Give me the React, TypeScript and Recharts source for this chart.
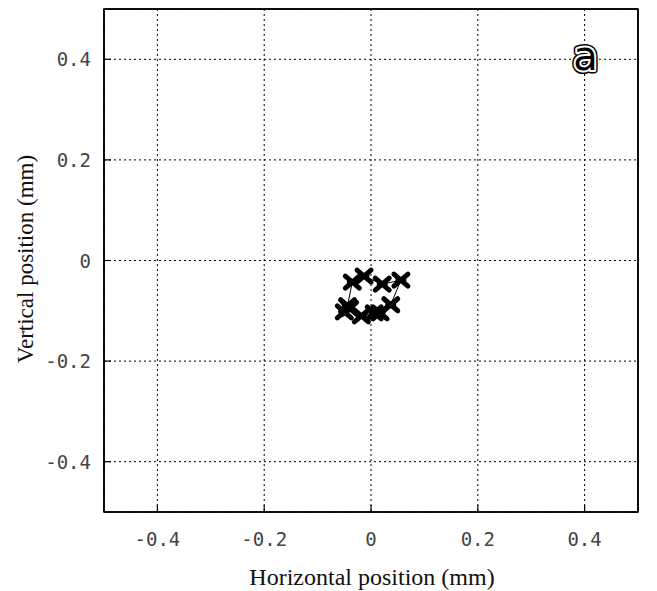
import { ScatterChart, Scatter, XAxis, YAxis, CartesianGrid, ReferenceArea, ReferenceDot } from 'recharts';

const xTicks = [-0.4, -0.2, 0, 0.2, 0.4];
const yTicks = [-0.4, -0.2, 0, 0.2, 0.4];

// traced marker positions (mm), in drawing order
const xPos = [-0.05, -0.044, -0.035, -0.013, 0.021, 0.056, 0.037, 0.017, 0.006, -0.018, -0.04];
const yPos = [-0.102, -0.09, -0.043, -0.031, -0.047, -0.039, -0.088, -0.104, -0.104, -0.11, -0.095];

const points = xPos.map((x, i) => ({ x, y: yPos[i] }));

const tickFont = { fontFamily: '"DejaVu Sans Mono", monospace', fontSize: 19, fill: '#444' };
const fmt = (v: number) => (v === 0 ? '0' : v.toFixed(1));

const BottomTick = ({ x, y, payload }: any) => (
  <g>
    <line x1={x} x2={x} y1={y} y2={y - 7} stroke="#000" strokeWidth={1.2} />
    <text x={x} y={y + 34} textAnchor="middle" {...tickFont}>{fmt(payload.value)}</text>
  </g>
);
const TopTick = ({ x, y }: any) => <line x1={x} x2={x} y1={y} y2={y + 7} stroke="#000" strokeWidth={1.2} />;
const LeftTick = ({ x, y, payload }: any) => (
  <g>
    <line x1={x} x2={x + 7} y1={y} y2={y} stroke="#000" strokeWidth={1.2} />
    <text x={x - 13} y={y + 7} textAnchor="end" {...tickFont}>{fmt(payload.value)}</text>
  </g>
);
const RightTick = ({ x, y }: any) => <line x1={x} x2={x - 7} y1={y} y2={y} stroke="#000" strokeWidth={1.2} />;

const Cross = ({ cx, cy }: any) => (
  <path
    d={`M${cx - 7},${cy - 6}L${cx + 7},${cy + 6}M${cx + 7},${cy - 6}L${cx - 7},${cy + 6}M${cx - 3},${cy}L${cx + 3},${cy}`}
    stroke="#000"
    strokeWidth={5}
    strokeLinecap="round"
  />
);

const PanelLetter = ({ cx, cy }: any) => (
  <g fontFamily='"DejaVu Sans", sans-serif' fontSize={40} textAnchor="middle">
    <text x={cx + 1} y={cy + 11} stroke="#000" strokeWidth={7} strokeLinejoin="round" fill="#000">a</text>
    <text x={cx + 1} y={cy + 11} stroke="#fff" strokeWidth={4} strokeLinejoin="round" fill="#fff">a</text>
    <text x={cx + 1} y={cy + 11} fill="#000">a</text>
  </g>
);

const axisLine = { stroke: '#000', strokeWidth: 1.5 };

export default function App() {
  return (
    <div style={{ position: 'absolute', left: 0, top: 0, width: 657, height: 591, background: '#fff' }}>
      <ScatterChart width={657} height={591} margin={{ top: 8, right: 18, bottom: 0, left: 0 }}>
        <CartesianGrid stroke="#000" strokeDasharray="2 3" strokeWidth={1} />
        <XAxis
          type="number"
          dataKey="x"
          domain={[-0.5, 0.5]}
          ticks={xTicks}
          height={79}
          tickSize={0}
          tickMargin={0}
          tickLine={false}
          axisLine={axisLine}
          tick={<BottomTick />}
        />
        <XAxis
          xAxisId="top"
          orientation="top"
          type="number"
          domain={[-0.5, 0.5]}
          ticks={xTicks}
          height={1}
          tickSize={0}
          tickMargin={0}
          tickLine={false}
          axisLine={axisLine}
          tick={<TopTick />}
        />
        <YAxis
          type="number"
          dataKey="y"
          domain={[-0.5, 0.5]}
          ticks={yTicks}
          width={104}
          tickSize={0}
          tickMargin={0}
          tickLine={false}
          axisLine={axisLine}
          tick={<LeftTick />}
        />
        <YAxis
          yAxisId="right"
          orientation="right"
          type="number"
          domain={[-0.5, 0.5]}
          ticks={yTicks}
          width={1}
          tickSize={0}
          tickMargin={0}
          tickLine={false}
          axisLine={axisLine}
          tick={<RightTick />}
        />
        <ReferenceArea x1={-0.5} x2={0.5} y1={-0.5} y2={0.5} fill="none" stroke="#000" strokeWidth={1.5} />
        <Scatter
          data={points}
          line={{ stroke: '#000', strokeWidth: 1 }}
          lineType="joint"
          shape={<Cross />}
          isAnimationActive={false}
        />
        <ReferenceDot x={0.4} y={0.4} r={0} shape={<PanelLetter />} />
      </ScatterChart>
      <div
        style={{
          position: 'absolute',
          left: 104,
          width: 536,
          top: 565,
          lineHeight: 1,
          textAlign: 'center',
          fontFamily: '"Liberation Serif", serif',
          fontSize: 24,
          color: '#111',
        }}
      >
        Horizontal position (mm)
      </div>
      <div
        style={{
          position: 'absolute',
          left: 25,
          top: 259,
          lineHeight: 1,
          transform: 'translate(-50%, -50%) rotate(-90deg)',
          whiteSpace: 'nowrap',
          fontFamily: '"Liberation Serif", serif',
          fontSize: 23,
          color: '#111',
        }}
      >
        Vertical position (mm)
      </div>
    </div>
  );
}
